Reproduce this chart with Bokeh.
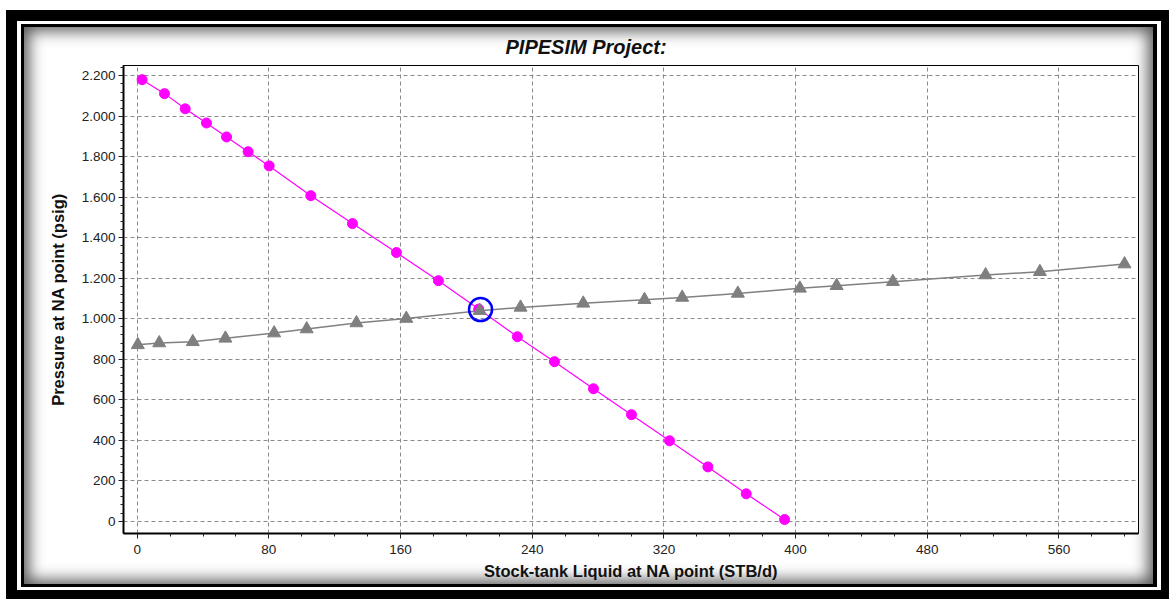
from bokeh.plotting import figure
from bokeh.models import Range1d, FixedTicker
from bokeh.embed import file_html
from bokeh.resources import INLINE

# ---- data ----
ipr_x = [3.0, 16.6, 29.2, 42.1, 54.3, 67.4, 80.2, 105.5, 130.8, 157.5, 183.0, 207.5,
         231.0, 253.5, 277.2, 300.3, 323.4, 346.7, 370.0, 393.3]
ipr_y = [2181, 2112, 2037, 1967, 1898, 1825, 1755, 1608, 1470, 1327, 1188, 1048,
         911, 788, 654, 526, 397, 268, 135, 8]

vlp_x = [0.4, 13.4, 33.8, 53.6, 83.2, 103.0, 133.2, 163.5, 208.1, 232.9, 271.0,
         308.2, 331.1, 364.9, 402.6, 424.9, 459.1, 515.4, 548.4, 599.8]
vlp_y = [871, 880, 886, 903, 929, 949, 979, 1001, 1040, 1056, 1076, 1094, 1105,
         1125, 1150, 1163, 1183, 1216, 1232, 1270]

op_x = [208.6]
op_y = [1045]

x_ticks = [0, 80, 160, 240, 320, 400, 480, 560]
x_minor = list(range(0, 601, 20))
y_ticks = [0, 200, 400, 600, 800, 1000, 1200, 1400, 1600, 1800, 2000, 2200]
y_tick_labels = ["0", "200", "400", "600", "800", "1.000", "1.200", "1.400",
                 "1.600", "1.800", "2.000", "2.200"]
y_minor = list(range(0, 2241, 40))

title_text = "PIPESIM Project:"
x_label = "Stock-tank Liquid at NA point (STB/d)"
y_label = "Pressure at NA point (psig)"

FONT = "Liberation Sans"
W, H = 1169, 599

p = figure(width=W, height=H, output_backend="svg", toolbar_location=None,
           x_range=Range1d(-8.3, 608.3), y_range=Range1d(-61, 2251),
           min_border_left=123, min_border_right=31, min_border_top=65,
           min_border_bottom=66)

p.border_fill_color = None
p.background_fill_color = "white"
p.outline_line_color = "black"
p.outline_line_width = 1
p.styles = {
    "background-color": "white",
    "box-shadow": (
        "inset 6px 10px 0 0 #fff, "
        "inset 17px 21px 0 0 #000, inset -8px -9px 0 0 #000, "
        "inset 21px 24px 0 0 #fff, inset -12px -12px 0 0 #fff, "
        "inset 24px 27px 0 0 #000, inset -16px -15px 0 0 #000, "
        "inset 4px 6px 15px 25px rgba(60,60,60,0.85)"
    ),
}

# title
p.title.text = title_text
p.title.align = "left"
p.title.offset = 382
p.title.standoff = 16
p.title.text_font = FONT
p.title.text_font_size = "20px"
p.title.text_font_style = "bold italic"
p.title.text_color = "#111111"

# axes
p.xaxis.ticker = FixedTicker(ticks=x_ticks, minor_ticks=x_minor)
p.yaxis.ticker = FixedTicker(ticks=y_ticks, minor_ticks=y_minor)
p.yaxis.major_label_overrides = {t: l for t, l in zip(y_ticks, y_tick_labels)}

for ax in (p.xaxis[0], p.yaxis[0]):
    ax.axis_line_color = "black"
    ax.axis_line_width = 2
    ax.major_tick_line_color = "#222222"
    ax.minor_tick_line_color = "#222222"
    ax.major_tick_in = 0
    ax.major_tick_out = 5
    ax.minor_tick_in = 0
    ax.minor_tick_out = 3
    ax.major_label_text_font = FONT
    ax.major_label_text_font_size = "13.5px"
    ax.major_label_text_color = "#222222"
    ax.axis_label_text_font = FONT
    ax.axis_label_text_font_size = "16.5px"
    ax.axis_label_text_font_style = "bold"
    ax.axis_label_text_color = "#111111"

p.xaxis.axis_label = x_label
p.yaxis.axis_label = y_label
p.xaxis.major_label_standoff = 6
p.xaxis.axis_label_standoff = 5
p.yaxis.major_label_standoff = 3
p.yaxis.axis_label_standoff = 12

# grid
for g in (p.xgrid[0], p.ygrid[0]):
    g.grid_line_color = "#8a8a8a"
    g.grid_line_dash = "4 3"
    g.grid_line_width = 1

# series
p.line(vlp_x, vlp_y, line_color="#808080", line_width=1.5)
p.line(ipr_x, ipr_y, line_color="#ff00ff", line_width=1.2)
p.scatter(ipr_x, ipr_y, marker="circle", size=10, fill_color="#ff00ff",
          line_color="#ff00ff")
p.scatter(vlp_x, vlp_y, marker="triangle", size=13, fill_color="#7f7f7f",
          line_color="#7f7f7f")
p.scatter(op_x, op_y, marker="circle", size=23, fill_color=None,
          line_color="#0000ff", line_width=2.5)

open("out.html", "w").write(file_html(p, INLINE))
